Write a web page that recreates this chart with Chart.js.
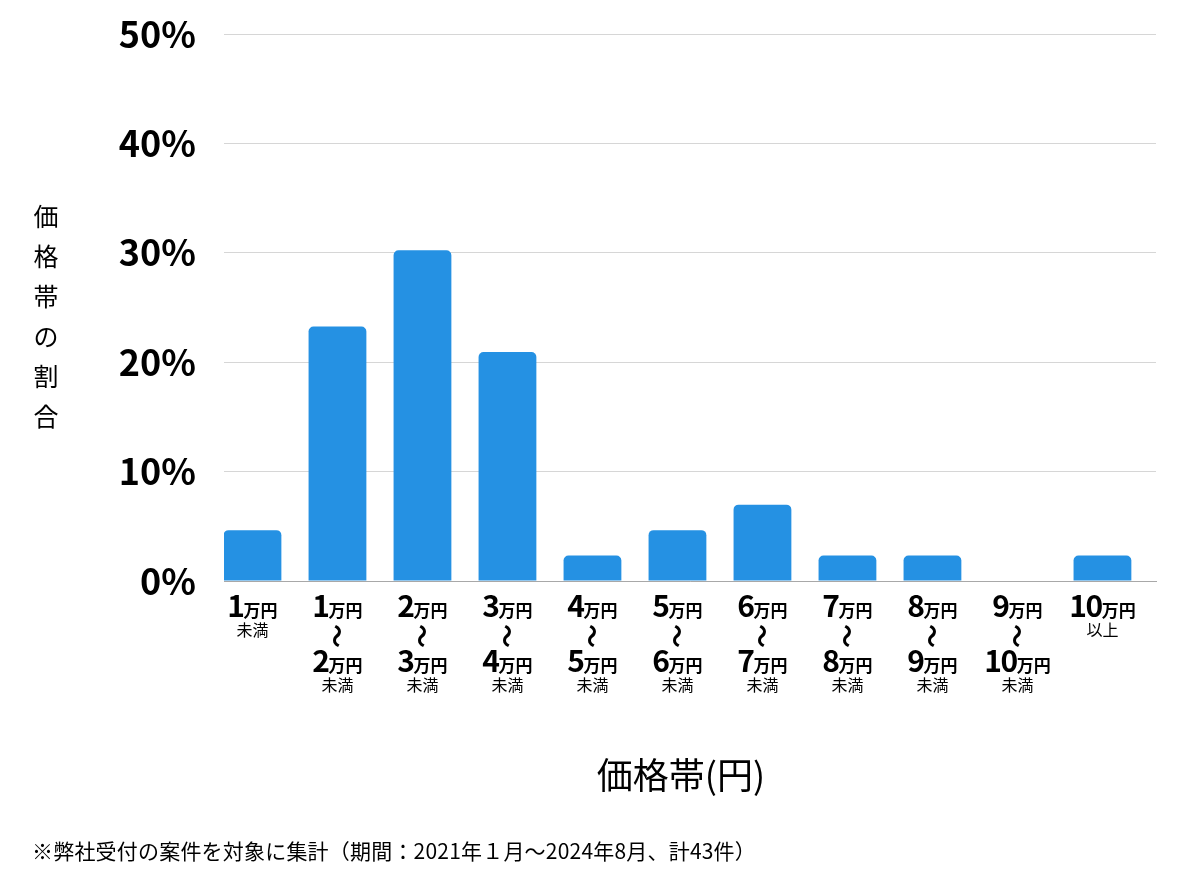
<!DOCTYPE html>
<html lang="ja">
<head>
<meta charset="utf-8">
<title>価格帯の割合</title>
<script src="https://cdn.jsdelivr.net/npm/chart.js@4.4.1/dist/chart.umd.min.js"></script>
<style>
  html, body { margin: 0; padding: 0; background: #fff; }
  #wrap { width: 1200px; height: 874px; }
</style>
</head>
<body>
<div id="wrap"><canvas id="priceChart" width="1200" height="874"></canvas></div>
<script>
// price bands (each entry = lines of the tick label)
const categories = [
  ["1万円", "未満"],
  ["1万円", "〜", "2万円", "未満"],
  ["2万円", "〜", "3万円", "未満"],
  ["3万円", "〜", "4万円", "未満"],
  ["4万円", "〜", "5万円", "未満"],
  ["5万円", "〜", "6万円", "未満"],
  ["6万円", "〜", "7万円", "未満"],
  ["7万円", "〜", "8万円", "未満"],
  ["8万円", "〜", "9万円", "未満"],
  ["9万円", "〜", "10万円", "未満"],
  ["10万円", "以上"]
];
// share of cases per band, % (43 cases)
const shares = [4.65, 23.26, 30.23, 20.93, 2.33, 4.65, 6.98, 2.33, 2.33, 0, 2.33];
const yTicks = [0, 10, 20, 30, 40, 50];

const yTitle = "価格帯の割合";
const xTitle = "価格帯(円)";
const footnote = "※弊社受付の案件を対象に集計（期間：2021年１月〜2024年8月、計43件）";

const JP = '"Noto Sans CJK JP", "Noto Sans", sans-serif';

// draws the multi-line tick labels, axis titles and footnote
const labelPlugin = {
  id: "labelPlugin",
  afterDraw(chart) {
    const ctx = chart.ctx;
    const xs = chart.scales.x;
    const area = chart.chartArea;
    ctx.save();
    ctx.fillStyle = "#000";

    categories.forEach((lines, i) => {
      const cx = xs.getPixelForValue(i);
      let y = area.bottom + 36;   // baseline of first amount line
      let prev = null;
      lines.forEach(line => {
        const m = line.match(/^(\d+)(万円)$/);
        if (m) {
          if (prev === "〜") y += 55;
          ctx.font = "bold 30px " + JP;
          ctx.letterSpacing = "-1.5px";
          const wNum = ctx.measureText(m[1]).width;
          ctx.font = "bold 17px " + JP;
          ctx.letterSpacing = "0px";
          const wUnit = ctx.measureText(m[2]).width;
          const left = cx - (wNum + wUnit) / 2;
          ctx.textAlign = "left";
          ctx.textBaseline = "alphabetic";
          ctx.font = "bold 30px " + JP;
          ctx.letterSpacing = "-1.5px";
          ctx.fillText(m[1], left, y);
          ctx.font = "bold 17px " + JP;
          ctx.letterSpacing = "0px";
          ctx.fillText(m[2], left + wNum, y);
        } else if (line === "〜") {
          ctx.save();
          ctx.translate(cx, y + 19);
          ctx.rotate(Math.PI / 2);
          ctx.font = "bold 24px " + JP;
          ctx.textAlign = "center";
          ctx.textBaseline = "middle";
          ctx.fillText("〜", 0, 0);
          ctx.restore();
        } else {
          ctx.font = "16px " + JP;
          ctx.textAlign = "center";
          ctx.textBaseline = "middle";
          ctx.fillText(line, cx, y + 13);
        }
        prev = line;
      });
    });

    // vertical y title
    ctx.font = "25px " + JP;
    ctx.textAlign = "center";
    ctx.textBaseline = "middle";
    Array.from(yTitle).forEach((ch, i) => {
      ctx.fillText(ch, 46, 216 + i * 40);
    });

    // x title
    ctx.font = "36px " + JP;
    ctx.fillText(xTitle, 681, 775);

    // footnote
    ctx.font = "21px " + JP;
    ctx.letterSpacing = "0.2px";
    ctx.textAlign = "left";
    ctx.fillText(footnote, 32, 851);
    ctx.restore();
  }
};

new Chart(document.getElementById("priceChart"), {
  type: "bar",
  data: {
    datasets: [{
      data: shares.map((v, i) => ({ x: i, y: v })),
      backgroundColor: "#2591e3",
      borderRadius: 5,
      borderSkipped: "start",
      barPercentage: 0.68,
      categoryPercentage: 1
    }]
  },
  options: {
    responsive: false,
    animation: false,
    devicePixelRatio: 1,
    layout: { padding: { top: 34, right: 44, left: 0, bottom: 0 } },
    plugins: { legend: { display: false }, tooltip: { enabled: false } },
    scales: {
      x: {
        type: "linear",
        offset: false,
        min: -0.335,
        max: 10.63,
        afterBuildTicks(scale) { scale.ticks = categories.map((c, i) => ({ value: i })); },
        grid: { display: false },
        border: { display: true, color: "#a8a8a8", width: 1 },
        ticks: { display: false },
        afterFit(scale) { scale.height = 293; scale.paddingLeft = 0; scale.paddingRight = 0; }
      },
      y: {
        min: 0,
        max: 50,
        afterBuildTicks(scale) { scale.ticks = yTicks.map(v => ({ value: v })); },
        grid: { color: "#d6d6d6", lineWidth: 1, drawTicks: false },
        border: { display: false },
        ticks: {
          padding: 28,
          color: "#000",
          font: { family: JP, size: 36, weight: "bold" },
          callback: v => v + "%"
        },
        afterFit(scale) { scale.width = 224; scale.paddingTop = 0; scale.paddingBottom = 0; }
      }
    }
  },
  plugins: [labelPlugin]
});
</script>
</body>
</html>
